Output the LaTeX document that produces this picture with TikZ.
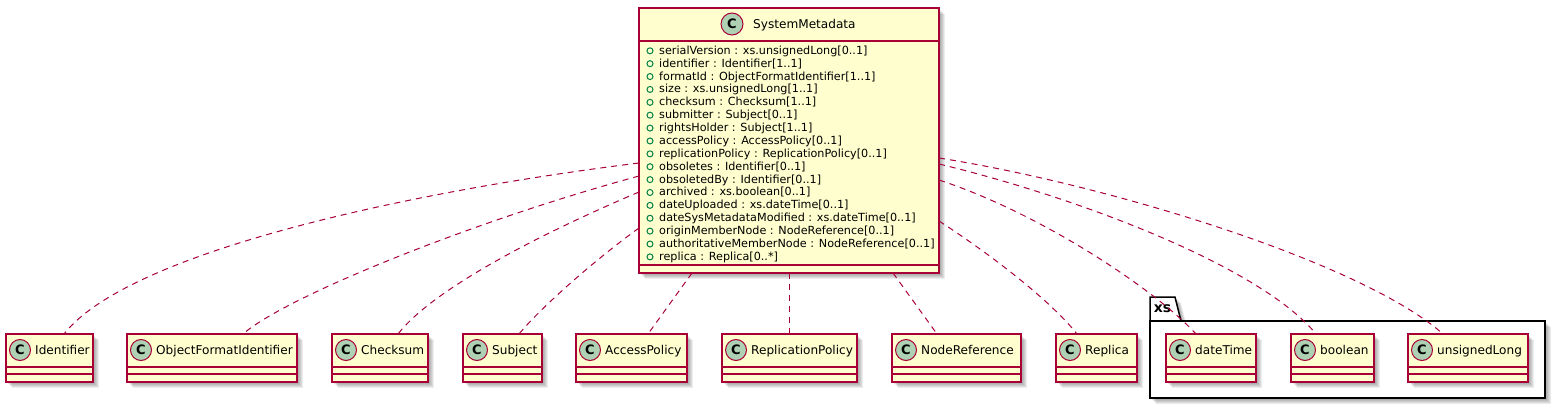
\documentclass[tikz,border=0pt]{standalone}
\usepackage{fontspec}
\setmainfont{DejaVu Sans}
\usetikzlibrary{calc}
\definecolor{umlfill}{HTML}{FEFECE}
\definecolor{umlline}{HTML}{A80036}
\definecolor{umlcirc}{HTML}{ADD1B2}
\definecolor{umlgreen}{HTML}{038048}
\tikzset{
  classbox/.style={draw=umlline, fill=umlfill, line width=1.5pt, rectangle, inner sep=0pt, outer sep=0pt, anchor=north west},
  umlsep/.style={draw=umlline, line width=1.5pt},
  ccirc/.style={circle, draw=umlline, fill=umlcirc, line width=1pt, minimum size=21pt, inner sep=0pt, font=\bfseries\fontsize{13}{13}\selectfont},
  cname/.style={anchor=base west, inner sep=0pt, font=\fontsize{12.1}{14}\selectfont},
  attr/.style={anchor=base west, inner sep=0pt, font=\fontsize{11.2}{12.88}\selectfont},
  dep/.style={draw=umlline, line width=1pt, dash pattern=on 6pt off 5pt},
  shadowfill/.style={fill=black, opacity=0.07},
}
\newcommand\umlclass[4]{%
  \foreach \d in {2,3,4,5,6}{\fill[shadowfill] (#2+\d,334+\d) rectangle (#2+#3+\d,382+\d);}
  \node[classbox, minimum width=#3pt, minimum height=48pt] (#1) at (#2,334) {};
  \draw[umlsep] ([yshift=-33pt]#1.north west) -- ([yshift=-33pt]#1.north east);
  \draw[umlsep] ([yshift=-40pt]#1.north west) -- ([yshift=-40pt]#1.north east);
  \node[ccirc] (#1c) at ([xshift=14pt,yshift=-16pt]#1.north west) {C};
  \node[cname] (#1n) at ([xshift=29pt,yshift=-20.5pt]#1.north west) {#4};
}
\begin{document}
\begin{tikzpicture}[x=1pt,y=-1pt]
\useasboundingbox (0,0) rectangle (1555,409);
% package xs
\foreach \d in {2,3,4,5,6}{
  \fill[shadowfill] (1150+\d,321+\d) -- (1150+\d,297+\d) -- (1175+\d,297+\d) -- (1181+\d,321+\d) -- (1545+\d,321+\d) -- (1545+\d,398+\d) -- (1150+\d,398+\d) -- cycle;
}
\draw[black, line width=1.5pt, fill=white] (1150,321) -- (1150,297) -- (1175,297) -- (1181,321) -- cycle;
\draw[black, line width=1.5pt, fill=white] (1150,321) rectangle (1545,398);
\node[anchor=base, inner sep=0pt, font=\bfseries\fontsize{14}{14}\selectfont] (pkgxs) at (1162.5,312.5) {xs};
% SystemMetadata
\foreach \d in {2,3,4,5,6}{\fill[shadowfill] (639+\d,8+\d) rectangle (939+\d,273+\d);}
\node[classbox, minimum width=300pt, minimum height=265pt] (sm) at (639,8) {};
\draw[umlsep] ([yshift=-33pt]sm.north west) -- ([yshift=-33pt]sm.north east);
\draw[umlsep] ([yshift=-257pt]sm.north west) -- ([yshift=-257pt]sm.north east);
\node[ccirc, minimum size=22pt] (smc) at ([xshift=93pt,yshift=-16pt]sm.north west) {C};
\node[cname] (smn) at ([xshift=114pt,yshift=-20.5pt]sm.north west) {SystemMetadata};
\foreach \t [count=\i from 0] in {{serialVersion : xs.unsignedLong[0..1]},{identifier : Identifier[1..1]},{formatId : ObjectFormatIdentifier[1..1]},{size : xs.unsignedLong[1..1]},{checksum : Checksum[1..1]},{submitter : Subject[0..1]},{rightsHolder : Subject[1..1]},{accessPolicy : AccessPolicy[0..1]},{replicationPolicy : ReplicationPolicy[0..1]},{obsoletes : Identifier[0..1]},{obsoletedBy : Identifier[0..1]},{archived : xs.boolean[0..1]},{dateUploaded : xs.dateTime[0..1]},{dateSysMetadataModified : xs.dateTime[0..1]},{originMemberNode : NodeReference[0..1]},{authoritativeMemberNode : NodeReference[0..1]},{replica : Replica[0..*]}}{
  \draw[umlgreen, line width=1pt] (650,50.8+12.88*\i) circle[radius=3pt];
  \node[attr] (a\i) at (659,54.3+12.88*\i) {\t};
}
% classes
\umlclass{idf}{6}{87}{Identifier}
\umlclass{ofi}{127}{170}{ObjectFormatIdentifier}
\umlclass{chk}{332}{96}{Checksum}
\umlclass{sub}{463}{79}{Subject}
\umlclass{acc}{576}{111}{AccessPolicy}
\umlclass{rpp}{722}{135}{ReplicationPolicy}
\umlclass{nod}{892}{129}{NodeReference}
\umlclass{rpl}{1056}{81}{Replica}
\umlclass{dt}{1166}{90}{dateTime}
\umlclass{bo}{1291}{83}{boolean}
\umlclass{ul}{1408}{120}{unsignedLong}
% connectors
\draw[dep] ([yshift=-155pt]sm.north west) .. controls (420,190) and (130,250) .. ([xshift=58pt]idf.north west);
\draw[dep] ([yshift=-168pt]sm.north west) .. controls (480,219) and (288,295) .. ([xshift=116pt]ofi.north west);
\draw[dep] ([yshift=-184pt]sm.north west) .. controls (540,234) and (433,289) .. ([xshift=66pt]chk.north west);
\draw[dep] ([yshift=-220pt]sm.north west) .. controls (600,256) and (544,304) .. ([xshift=56pt]sub.north west);
\draw[dep] ([xshift=53pt]sm.south west) -- ([xshift=72pt]acc.north west);
\draw[dep] ([xshift=150pt]sm.south west) -- ([xshift=67pt]rpp.north west);
\draw[dep] ([xshift=254pt]sm.south west) -- ([xshift=45pt]nod.north west);
\draw[dep] ([yshift=-213pt]sm.north east) .. controls (990,254) and (1050,300) .. ([xshift=21pt]rpl.north west);
\draw[dep] ([yshift=-172pt]sm.north east) .. controls (1040,213) and (1156,290) .. ([xshift=30pt]dt.north west);
\draw[dep] ([yshift=-156pt]sm.north east) .. controls (1080,198) and (1261,267) .. ([xshift=25pt]bo.north west);
\draw[dep] ([yshift=-150pt]sm.north east) .. controls (1110,185) and (1363,263) .. ([xshift=35pt]ul.north west);
\end{tikzpicture}
\end{document}
